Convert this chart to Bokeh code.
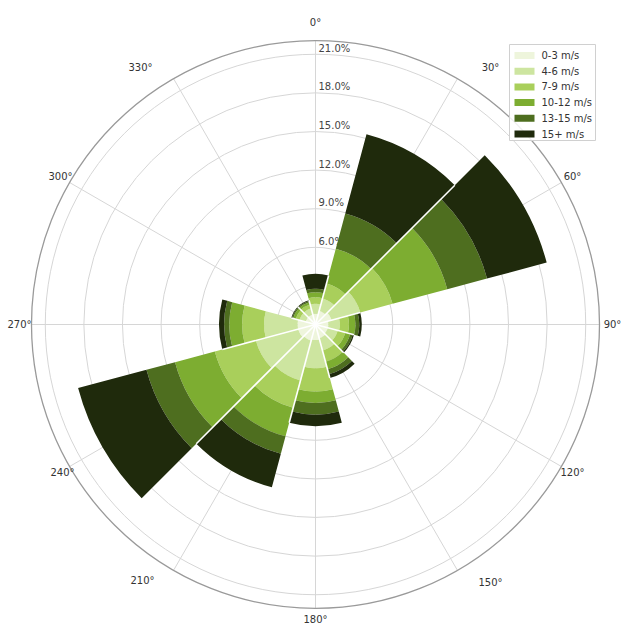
import numpy as np
from bokeh.plotting import figure
from bokeh.models import ColumnDataSource, Range1d
from bokeh.core.properties import value
from bokeh.embed import file_html
from bokeh.resources import INLINE

# ---------------- data ----------------
directions = [0, 30, 60, 90, 120, 150, 180, 210, 240, 270, 300, 330]
speed_bins = ["0-3 m/s", "4-6 m/s", "7-9 m/s", "10-12 m/s", "13-15 m/s", "15+ m/s"]
freq_0_3   = [0.83, 1.10, 1.30, 1.00, 1.00, 1.10, 1.20, 1.30, 1.40, 1.40, 0.80, 0.80]
freq_4_6   = [0.78, 1.00, 2.30, 0.90, 0.80, 1.00, 2.20, 3.20, 3.40, 2.60, 0.50, 0.50]
freq_7_9   = [0.51, 1.20, 2.60, 0.70, 0.60, 0.90, 1.80, 2.20, 3.30, 1.70, 0.30, 0.30]
freq_10_12 = [0.39, 2.80, 4.40, 0.50, 0.40, 0.60, 0.90, 2.30, 3.20, 1.00, 0.20, 0.20]
freq_13_15 = [0.27, 2.83, 3.20, 0.30, 0.20, 0.40, 0.90, 1.40, 2.30, 0.40, 0.10, 0.10]
freq_15p   = [1.16, 6.38, 4.80, 0.20, 0.10, 0.30, 0.90, 2.70, 5.50, 0.40, 0.05, 0.05]
radial_ticks = [3, 6, 9, 12, 15, 18, 21]
radial_label_ticks = [6, 9, 12, 15, 18, 21]
radial_labels = ["6.0%", "9.0%", "12.0%", "15.0%", "18.0%", "21.0%"]
angle_ticks = [0, 30, 60, 90, 120, 150, 180, 210, 240, 270, 300, 330]
angle_labels = ["0°", "30°", "60°", "90°", "120°", "150°", "180°", "210°", "240°", "270°", "300°", "330°"]
r_max = 22.07

# ---------------- layout / style ----------------
colors = ["#eef5dc", "#cde5a0", "#a9cf5b", "#7dad31", "#4e6e1f", "#1f2a0c"]
FONT = value("DejaVu Sans")
R_PX = 284.0
K = R_PX / r_max          # pixels per percent
SECTOR = 30.0
# label placement (pixel offsets from centre) for the compass labels
label_dx = [0, 175, 257, 297, 257, 175, 0, -173, -253, -296, -255, -175]
label_dy = [302, 257, 148, 0, -148, -258, -295, -256, -148, 0, 148, 257]

W, H = 637, 624
CX, CY = 315, 324
p = figure(width=W, height=H, output_backend="svg", toolbar_location=None,
           x_range=Range1d(-CX, W - CX), y_range=Range1d(CY - H, CY),
           x_axis_type=None, y_axis_type=None, min_border=0)
p.outline_line_color = None
p.grid.visible = False
p.background_fill_color = "white"
p.border_fill_color = "white"

# grid rings
p.circle(x=[0] * len(radial_ticks), y=[0] * len(radial_ticks),
         radius=[t * K for t in radial_ticks], fill_color=None,
         line_color="#d6d6d6", line_width=1)
# spokes
ang = np.radians(angle_ticks)
p.segment(x0=0, y0=0, x1=list(R_PX * np.sin(ang)), y1=list(R_PX * np.cos(ang)),
          line_color="#d6d6d6", line_width=1)
# outer circle
p.circle(x=[0], y=[0], radius=[R_PX], fill_color=None, line_color="#9a9a9a", line_width=1.3)

# radial labels (under bars)
p.text(x=[3] * len(radial_label_ticks), y=[t * K + 6 for t in radial_label_ticks],
       text=radial_labels, text_font=FONT, text_font_size="10px",
       text_color="#444444", text_align="left", text_baseline="middle")

# stacked bars
series = [freq_0_3, freq_4_6, freq_7_9, freq_10_12, freq_13_15, freq_15p]
cum = np.zeros(len(directions))
d = np.array(directions, dtype=float)
for vals, col, name in zip(series, colors, speed_bins):
    v = np.array(vals, dtype=float)
    src = ColumnDataSource(dict(
        inner=list(cum * K), outer=list((cum + v) * K),
        start=list(90 - d - SECTOR / 2), end=list(90 - d + SECTOR / 2)))
    p.annular_wedge(x=0, y=0, inner_radius="inner", outer_radius="outer",
                    start_angle="start", end_angle="end",
                    start_angle_units="deg", end_angle_units="deg",
                    fill_color=col, line_color=None, source=src)
    cum = cum + v

# white separators between adjacent sectors
tot = cum
nxt = np.roll(tot, -1)
sep_len = np.minimum(tot, nxt) * K
b = np.radians(d + SECTOR / 2)
p.segment(x0=0, y0=0, x1=list(sep_len * np.sin(b)), y1=list(sep_len * np.cos(b)),
          line_color="white", line_width=1.6)

# compass labels
p.text(x=label_dx, y=label_dy, text=angle_labels, text_font=FONT,
       text_font_size="10px", text_color="#333333",
       text_align="center", text_baseline="middle")

# legend (manual, matplotlib-like box)
lx0, lx1 = 194, 280
ly_top, ly_bot = 280, 184
p.quad(left=[lx0], right=[lx1], top=[ly_top], bottom=[ly_bot],
       fill_color="white", fill_alpha=0.85, line_color="#d0d0d0", line_width=1)
row_y = [ly_top - 11 - 15.7 * i for i in range(len(speed_bins))]
p.rect(x=[209] * len(speed_bins), y=row_y, width=20, height=7,
       fill_color=colors, line_color=None)
p.text(x=[226] * len(speed_bins), y=row_y, text=speed_bins, text_font=FONT,
       text_font_size="10px", text_color="#333333",
       text_align="left", text_baseline="middle")

open("out.html", "w").write(file_html(p, INLINE))
